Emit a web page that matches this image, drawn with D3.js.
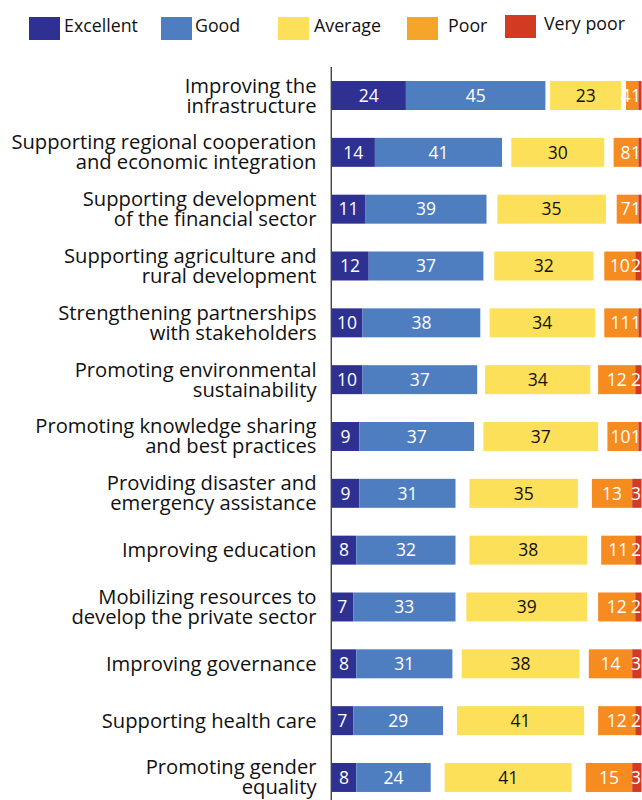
<!DOCTYPE html>
<html>
<head>
<meta charset="utf-8">
<script src="https://cdn.jsdelivr.net/npm/d3@7"></script>
<style>
  html, body { margin: 0; padding: 0; background: #fff; }
  svg { display: block; }
  text { font-family: "Open Sans", "Noto Sans", sans-serif; }
</style>
</head>
<body>
<svg id="chart" width="642" height="800"></svg>
<script>
// Ratings by area of support (percent of respondents); missing share is non-response
const categories = [
  "Improving the\ninfrastructure",
  "Supporting regional cooperation\nand economic integration",
  "Supporting development\nof the financial sector",
  "Supporting agriculture and\nrural development",
  "Strengthening partnerships\nwith stakeholders",
  "Promoting environmental\nsustainability",
  "Promoting knowledge sharing\nand best practices",
  "Providing disaster and\nemergency assistance",
  "Improving education",
  "Mobilizing resources to\ndevelop the private sector",
  "Improving governance",
  "Supporting health care",
  "Promoting gender\nequality"
];
const ratingLabels = ["Excellent", "Good", "Average", "Poor", "Very poor"];
const excellent = [24, 14, 11, 12, 10, 10, 9, 9, 8, 7, 8, 7, 8];
const good      = [45, 41, 39, 37, 38, 37, 37, 31, 32, 33, 31, 29, 24];
const average   = [23, 30, 35, 32, 34, 34, 37, 35, 38, 39, 38, 41, 41];
const poor      = [ 4,  8,  7, 10, 11, 12, 10, 13, 11, 12, 14, 12, 15];
const veryPoor  = [ 1,  1,  1,  2,  1,  2,  1,  3,  2,  2,  3,  2,  3];

const barColors    = ["#2e3192", "#4f7ec0", "#fde05a", "#f68b1f", "#d23b22"];
const legendColors = ["#2e3192", "#4f7ec0", "#fde05a", "#f4a52a", "#d23b22"];
const labelColors  = ["#ffffff", "#ffffff", "#111111", "#ffffff", "#ffffff"];

const svg = d3.select("#chart");

const x = d3.scaleLinear().domain([0, 100]).range([331.5, 641.5]);
const step = 56.83;
const y = d3.scaleBand()
  .domain(categories)
  .range([67.1, 67.1 + step * categories.length])
  .paddingInner(0.49)
  .paddingOuter(0.245);

// Build segments: Excellent+Good from the axis, Poor+Very poor flush right,
// Average centred in the remaining space (non-response split as two gaps)
const rows = categories.map((c, i) => {
  const v = [excellent[i], good[i], average[i], poor[i], veryPoor[i]];
  const total = d3.sum(v);
  const gap = (100 - total) / 2;
  const starts = [0, v[0], v[0] + v[1] + gap, v[0] + v[1] + gap + v[2] + gap,
                  v[0] + v[1] + gap + v[2] + gap + v[3]];
  return v.map((val, k) => ({ cat: c, k, val, x0: starts[k], x1: starts[k] + val }));
});

const g = svg.append("g");

rows.forEach(segs => {
  const row = g.append("g");
  row.selectAll("rect").data(segs).join("rect")
    .attr("x", d => x(d.x0))
    .attr("y", d => y(d.cat))
    .attr("width", d => x(d.x1) - x(d.x0))
    .attr("height", y.bandwidth())
    .attr("fill", d => barColors[d.k]);

  // value labels, nudged so the two narrow right-hand labels do not collide
  const labels = row.selectAll("text").data(segs).join("text")
    .attr("y", d => y(d.cat) + y.bandwidth() / 2)
    .attr("dy", "0.36em")
    .attr("text-anchor", "middle")
    .attr("font-size", 17.5)
    .attr("fill", d => labelColors[d.k])
    .text(d => d.val);
  const widths = [];
  labels.each(function () { widths.push(this.getComputedTextLength()); });
  const pos = segs.map(d => (x(d.x0) + x(d.x1)) / 2);
  pos[4] = Math.min(pos[4], 641 - widths[4] / 2);
  pos[3] = Math.min(pos[3], pos[4] - widths[4] / 2 - widths[3] / 2 - 0.5);
  labels.attr("x", (d, i) => pos[i]);
});

// category labels
categories.forEach(c => {
  const lines = c.split("\n");
  const cy = y(c) + y.bandwidth() / 2;
  const t = g.append("text")
    .attr("text-anchor", "end")
    .attr("font-size", 20.2)
    .attr("fill", "#111");
  if (lines.length === 1) {
    t.append("tspan").attr("x", 316.5).attr("y", cy + 7).text(lines[0]);
  } else {
    t.append("tspan").attr("x", 316.5).attr("y", cy - 3).text(lines[0]);
    t.append("tspan").attr("x", 316.5).attr("y", cy + 17).text(lines[1]);
  }
});

// vertical axis line
svg.append("line")
  .attr("x1", 331.3).attr("x2", 331.3)
  .attr("y1", y.range()[0]).attr("y2", 800)
  .attr("stroke", "#444").attr("stroke-width", 1.4);

// legend
const legendX = [29, 161, 278, 407, 505];
const legendTextX = [64, 195, 314, 448, 544];
const legend = svg.append("g");
ratingLabels.forEach((r, i) => {
  const dy = i === 4 ? -2 : 0;
  legend.append("rect")
    .attr("x", legendX[i]).attr("y", 17 + dy)
    .attr("width", 31).attr("height", 23)
    .attr("fill", legendColors[i]);
  legend.append("text")
    .attr("x", legendTextX[i]).attr("y", 32.3 + dy)
    .attr("font-size", 17.8)
    .attr("fill", "#111")
    .text(r);
});
</script>
</body>
</html>
